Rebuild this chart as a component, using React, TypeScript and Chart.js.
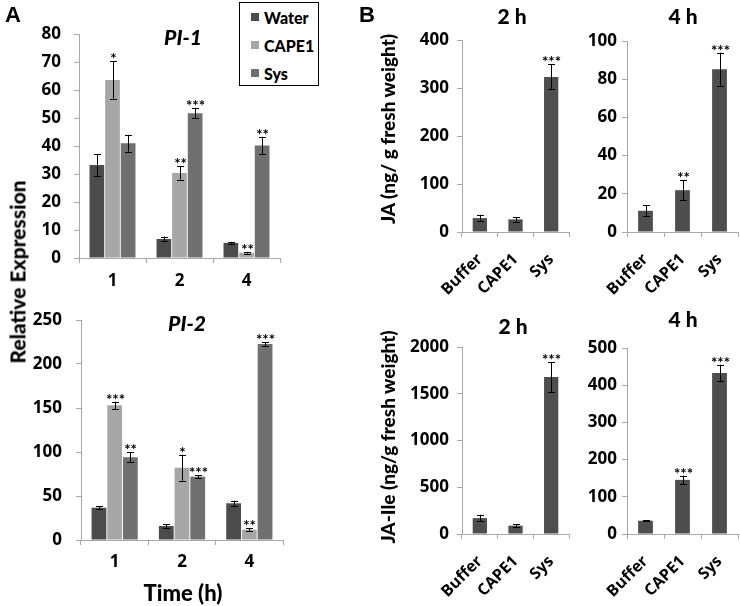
import React, { useEffect, useRef } from "react";
import { Chart, registerables } from "chart.js";

Chart.register(...registerables);

// ---------- data ----------
const timeCategories = ["1", "2", "4"];
const treatmentCategories = ["Buffer", "CAPE1", "Sys"];
const seriesNames = ["Water", "CAPE1", "Sys"];

// Panel A, PI-1
const pi1Water = [33.2, 6.8, 5.4];
const pi1WaterErr = [3.8, 0.8, 0.4];
const pi1Cape = [63.6, 30.4, 1.9];
const pi1CapeErr = [6.7, 2.4, 0.3];
const pi1Sys = [41.0, 51.7, 40.2];
const pi1SysErr = [3.0, 1.8, 3.1];
const pi1CapeStars = ["*", "**", "**"];
const pi1SysStars = ["", "***", "**"];
const pi1Ticks = [0, 10, 20, 30, 40, 50, 60, 70, 80];

// Panel A, PI-2
const pi2Water = [36.7, 15.9, 41.7];
const pi2WaterErr = [1.6, 1.8, 3.0];
const pi2Cape = [153, 82.2, 11.7];
const pi2CapeErr = [4.2, 14.8, 1.5];
const pi2Sys = [93.9, 72.0, 222.7];
const pi2SysErr = [5.7, 1.3, 2.3];
const pi2CapeStars = ["***", "*", "**"];
const pi2SysStars = ["**", "***", "***"];
const pi2Ticks = [0, 50, 100, 150, 200, 250];

// Panel B, JA
const ja2h = [29, 26.3, 323];
const ja2hErr = [7, 4.5, 26];
const ja2hStars = ["", "", "***"];
const ja2hTicks = [0, 100, 200, 300, 400];
const ja4h = [11.1, 21.9, 85.2];
const ja4hErr = [2.8, 5.2, 8.7];
const ja4hStars = ["", "**", "***"];
const ja4hTicks = [0, 20, 40, 60, 80, 100];

// Panel B, JA-Ile
const jaIle2h = [170, 89, 1680];
const jaIle2hErr = [36, 14, 160];
const jaIle2hStars = ["", "", "***"];
const jaIle2hTicks = [0, 500, 1000, 1500, 2000];
const jaIle4h = [35.7, 145.5, 433];
const jaIle4hErr = [2, 11.6, 22];
const jaIle4hStars = ["", "***", "***"];
const jaIle4hTicks = [0, 100, 200, 300, 400, 500];

// ---------- styles ----------
const FONT = "Lato, 'Open Sans', sans-serif";
const TICK_FONT = "'Open Sans', Lato, sans-serif";
const AXIS = "#a8a8a8";
const waterColor = "#4b4b4b";
const capeColor = "#a6a6a6";
const sysColor = "#707070";
const bColor = "#4e4e4e";

const errorBarPlugin = {
  id: "errorBars",
  afterDatasetsDraw(chart: any) {
    const ctx = chart.ctx;
    const yScale = chart.scales.y;
    chart.data.datasets.forEach((ds: any, i: number) => {
      const meta = chart.getDatasetMeta(i);
      meta.data.forEach((bar: any, j: number) => {
        const v = ds.data[j];
        const e = ds.errors ? ds.errors[j] : 0;
        const x = Math.round(bar.x) + 0.5;
        const yTop = yScale.getPixelForValue(v + e);
        const yBot = yScale.getPixelForValue(Math.max(0, v - e));
        ctx.save();
        ctx.strokeStyle = "#000";
        ctx.lineWidth = 1;
        ctx.beginPath();
        ctx.moveTo(x, yTop);
        ctx.lineTo(x, yBot);
        ctx.moveTo(x - 3.5, Math.round(yTop) + 0.5);
        ctx.lineTo(x + 3.5, Math.round(yTop) + 0.5);
        ctx.moveTo(x - 3.5, Math.round(yBot) + 0.5);
        ctx.lineTo(x + 3.5, Math.round(yBot) + 0.5);
        ctx.stroke();
        const star = ds.stars ? ds.stars[j] : "";
        if (star) {
          ctx.fillStyle = "#000";
          ctx.font = `bold 15px ${FONT}`;
          ctx.textAlign = "center";
          ctx.textBaseline = "alphabetic";
          ctx.fillText(star, x, yTop + 3);
        }
        ctx.restore();
      });
    });
  },
};

type PanelProps = {
  box: { l: number; t: number; w: number; h: number };
  area: { l: number; t: number; r: number; b: number };
  labels: string[];
  datasets: any[];
  yTicks: number[];
  yPad: number;
  xPad: number;
  rotate: boolean;
  catPct: number;
  barPct: number;
};

function BarPanel(p: PanelProps) {
  const ref = useRef<HTMLCanvasElement | null>(null);
  useEffect(() => {
    if (!ref.current) return;
    const yW = p.area.l - p.box.l;
    const xH = p.box.t + p.box.h - p.area.b;
    const padTop = p.area.t - p.box.t;
    const padRight = p.box.l + p.box.w - p.area.r;
    const yMax = p.yTicks[p.yTicks.length - 1];
    const step = p.yTicks[1] - p.yTicks[0];
    const chart = new Chart(ref.current, {
      type: "bar",
      data: {
        labels: p.labels,
        datasets: p.datasets.map((d) => ({
          ...d,
          categoryPercentage: p.catPct,
          barPercentage: p.barPct,
          borderWidth: 0,
        })),
      },
      options: {
        responsive: false,
        maintainAspectRatio: false,
        animation: false,
        layout: { padding: { top: padTop, right: padRight, left: 0, bottom: 0 } },
        plugins: {
          legend: { display: false },
          title: { display: false },
          tooltip: { enabled: false },
        },
        scales: {
          x: {
            type: "category",
            offset: true,
            grid: {
              display: true,
              drawOnChartArea: false,
              offset: true,
              tickLength: 5,
              color: AXIS,
            },
            border: { color: AXIS, width: 1 },
            ticks: {
              color: "#000",
              font: { family: TICK_FONT, size: p.rotate ? 16 : 17, weight: "bold" },
              padding: p.xPad,
              autoSkip: false,
              maxRotation: p.rotate ? 45 : 0,
              minRotation: p.rotate ? 45 : 0,
            },
            afterFit(s: any) {
              s.height = xH;
              s.paddingLeft = 0;
              s.paddingRight = 0;
            },
          },
          y: {
            min: 0,
            max: yMax,
            ticks: {
              stepSize: step,
              color: "#000",
              font: { family: TICK_FONT, size: 17, weight: "bold" },
              padding: p.yPad,
              callback: (v: any) => String(v),
            },
            grid: {
              display: true,
              drawOnChartArea: false,
              tickLength: 5,
              color: AXIS,
            },
            border: { color: AXIS, width: 1 },
            afterFit(s: any) {
              s.width = yW;
              s.paddingTop = 0;
              s.paddingBottom = 0;
            },
          },
        },
      } as any,
      plugins: [errorBarPlugin],
    });
    return () => chart.destroy();
  }, []);
  return (
    <canvas
      ref={ref}
      width={p.box.w}
      height={p.box.h}
      style={{
        position: "absolute",
        left: p.box.l,
        top: p.box.t,
        width: p.box.w,
        height: p.box.h,
        display: "block",
      }}
    />
  );
}

const textStyle = (x: number, y: number, size: number, extra: any = {}) => ({
  position: "absolute" as const,
  left: x,
  top: y,
  transform: "translate(-50%, -50%)",
  fontFamily: FONT,
  fontWeight: 900,
  fontSize: size,
  color: "#000",
  whiteSpace: "nowrap" as const,
  lineHeight: 1,
  ...extra,
});

const vText = (x: number, y: number, size: number) => ({
  ...textStyle(x, y, size),
  transform: "translate(-50%, -50%) rotate(-90deg)",
});

export default function App() {
  const aDatasets1 = [
    { label: seriesNames[0], data: pi1Water, errors: pi1WaterErr, stars: ["", "", ""], backgroundColor: waterColor },
    { label: seriesNames[1], data: pi1Cape, errors: pi1CapeErr, stars: pi1CapeStars, backgroundColor: capeColor },
    { label: seriesNames[2], data: pi1Sys, errors: pi1SysErr, stars: pi1SysStars, backgroundColor: sysColor },
  ];
  const aDatasets2 = [
    { label: seriesNames[0], data: pi2Water, errors: pi2WaterErr, stars: ["", "", ""], backgroundColor: waterColor },
    { label: seriesNames[1], data: pi2Cape, errors: pi2CapeErr, stars: pi2CapeStars, backgroundColor: capeColor },
    { label: seriesNames[2], data: pi2Sys, errors: pi2SysErr, stars: pi2SysStars, backgroundColor: sysColor },
  ];
  const bd = (data: number[], errors: number[], stars: string[]) => [
    { label: "value", data, errors, stars, backgroundColor: bColor },
  ];
  const legendColors = [waterColor, capeColor, sysColor];

  return (
    <div
      style={{
        position: "absolute",
        left: 0,
        top: 0,
        width: 740,
        height: 606,
        background: "#fff",
        overflow: "hidden",
      }}
    >
      <BarPanel
        box={{ l: 20, t: 10, w: 270, h: 290 }}
        area={{ l: 79, t: 34, r: 280, b: 258 }}
        labels={timeCategories}
        datasets={aDatasets1}
        yTicks={pi1Ticks}
        yPad={13}
        xPad={8}
        rotate={false}
        catPct={0.7}
        barPct={0.94}
      />
      <BarPanel
        box={{ l: 20, t: 300, w: 270, h: 290 }}
        area={{ l: 81, t: 320, r: 283, b: 540 }}
        labels={timeCategories}
        datasets={aDatasets2}
        yTicks={pi2Ticks}
        yPad={14}
        xPad={7}
        rotate={false}
        catPct={0.7}
        barPct={0.94}
      />
      <BarPanel
        box={{ l: 400, t: 30, w: 180, h: 280 }}
        area={{ l: 462, t: 40, r: 569, b: 232 }}
        labels={treatmentCategories}
        datasets={bd(ja2h, ja2hErr, ja2hStars)}
        yTicks={ja2hTicks}
        yPad={8}
        xPad={13}
        rotate={true}
        catPct={0.4}
        barPct={1}
      />
      <BarPanel
        box={{ l: 580, t: 30, w: 160, h: 280 }}
        area={{ l: 627, t: 41, r: 738, b: 232 }}
        labels={treatmentCategories}
        datasets={bd(ja4h, ja4hErr, ja4hStars)}
        yTicks={ja4hTicks}
        yPad={5}
        xPad={13}
        rotate={true}
        catPct={0.4}
        barPct={1}
      />
      <BarPanel
        box={{ l: 400, t: 330, w: 180, h: 276 }}
        area={{ l: 462, t: 347, r: 569, b: 534 }}
        labels={treatmentCategories}
        datasets={bd(jaIle2h, jaIle2hErr, jaIle2hStars)}
        yTicks={jaIle2hTicks}
        yPad={8}
        xPad={13}
        rotate={true}
        catPct={0.4}
        barPct={1}
      />
      <BarPanel
        box={{ l: 580, t: 330, w: 160, h: 276 }}
        area={{ l: 627, t: 348, r: 738, b: 534 }}
        labels={treatmentCategories}
        datasets={bd(jaIle4h, jaIle4hErr, jaIle4hStars)}
        yTicks={jaIle4hTicks}
        yPad={5}
        xPad={13}
        rotate={true}
        catPct={0.4}
        barPct={1}
      />

      {/* panel letters */}
      <div style={textStyle(13, 15, 22, { fontFamily: "'Liberation Sans', Arial, sans-serif", fontWeight: 700 })}>A</div>
      <div style={textStyle(367, 15, 22, { fontFamily: "'Liberation Sans', Arial, sans-serif", fontWeight: 700 })}>B</div>

      {/* titles */}
      <div style={textStyle(183, 36, 21, { fontStyle: "italic" })}>PI-1</div>
      <div style={textStyle(187, 322, 21, { fontStyle: "italic" })}>PI-2</div>
      <div style={textStyle(512, 15, 21)}>2 h</div>
      <div style={textStyle(683, 15, 21)}>4 h</div>
      <div style={textStyle(513, 325, 21)}>2 h</div>
      <div style={textStyle(683, 318, 21)}>4 h</div>

      {/* axis titles */}
      <div style={vText(17, 272, 21)}>Relative Expression</div>
      <div style={vText(387, 129, 19)}>JA (ng/ g fresh weight)</div>
      <div style={vText(387, 437, 19)}>JA-Ile (ng/g fresh weight)</div>
      <div style={textStyle(183, 593, 22)}>Time (h)</div>

      {/* legend */}
      <div
        style={{
          position: "absolute",
          left: 239,
          top: 2,
          width: 80,
          height: 84,
          border: "1px solid #000",
          background: "#fff",
          boxSizing: "border-box",
        }}
      >
        {seriesNames.map((name, i) => (
          <div
            key={name}
            style={{
              position: "absolute",
              left: 11,
              top: 14 + i * 28 - 10,
              height: 20,
              display: "flex",
              alignItems: "center",
              fontFamily: FONT,
              fontWeight: 900,
              fontSize: 16,
              color: "#000",
              whiteSpace: "nowrap",
            }}
          >
            <span
              style={{
                display: "inline-block",
                width: 8,
                height: 8,
                background: legendColors[i],
                marginRight: 5,
              }}
            />
            {name}
          </div>
        ))}
      </div>
    </div>
  );
}
